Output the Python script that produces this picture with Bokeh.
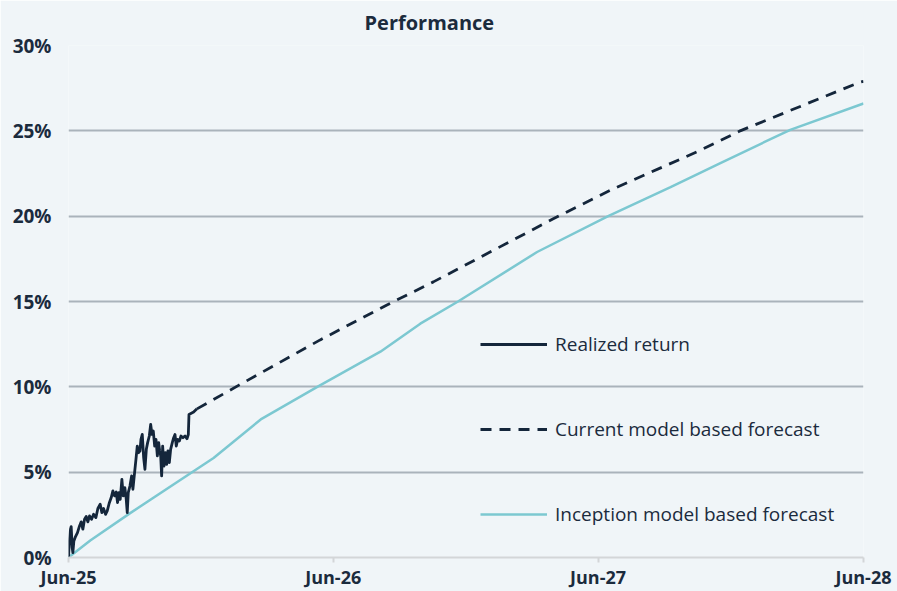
import pandas as pd
from bokeh.plotting import figure
from bokeh.models import (Range1d, FixedTicker, DatetimeTickFormatter, PrintfTickFormatter,
                          Legend, LegendItem)
from bokeh.embed import file_html
from bokeh.resources import INLINE

# ---------------- data ----------------
start_date = "2025-06-30"
end_date = "2028-06-30"

# realized return: days since start, percent
realized_days = [0, 1.4, 2.8, 3.7, 5.1, 6.0, 7.4, 9.7, 12.4, 15.2, 17.5, 19.8, 22.1, 24.4, 26.7,
                 29.0, 31.8, 34.6, 37.8, 40.5, 43.7, 46.0, 48.3, 51.1, 53.4, 56.1, 58.9, 61.2,
                 63.5, 65.8, 67.6, 69.5, 71.3, 73.6, 75.5, 77.7, 79.6, 81.0, 82.4, 84.7, 87.0,
                 88.8, 91.1, 93.0, 94.8, 96.7, 98.5, 99.9, 101.7, 103.6, 105.4, 107.3, 109.1,
                 111.4, 113.3, 115.1, 116.9, 118.8, 120.6, 122.5, 124.3, 125.7, 127.1, 128.4,
                 129.8, 131.6, 133.5, 135.3, 137.1, 139.0, 140.8, 143.1, 145.0, 146.8, 148.6,
                 150.5, 152.8, 155.1, 157.8, 160.6, 163.3, 165.2, 166.1, 172.5, 177.1]
realized_pct = [0.00, 1.07, 1.66, 1.81, 0.58, 0.29, 0.97, 1.23, 1.46, 1.85, 2.09, 1.66, 2.24, 2.40,
                2.09, 2.44, 2.24, 2.53, 2.34, 2.87, 3.12, 2.63, 2.87, 2.53, 2.73, 3.18, 3.51, 3.90,
                3.61, 3.84, 3.22, 3.80, 3.41, 4.58, 3.61, 4.09, 3.41, 2.63, 3.80, 4.19, 4.78, 4.00,
                4.97, 5.75, 6.53, 6.14, 6.24, 6.92, 7.21, 5.85, 5.17, 6.34, 6.73, 7.12, 7.80, 7.21,
                7.41, 6.53, 6.92, 5.95, 6.73, 6.24, 5.95, 4.78, 6.53, 5.36, 6.14, 5.46, 6.24, 5.56,
                6.34, 6.73, 7.02, 7.21, 6.53, 6.92, 6.82, 7.12, 7.02, 7.12, 6.96, 7.21, 8.38, 8.52,
                8.71]

# current model based forecast
current_days = [177.1, 235, 347, 439, 503, 669, 751, 871, 926, 1091, 1096]
current_pct = [8.71, 10.1, 12.75, 14.8, 16.15, 19.86, 21.6, 23.86, 25.0, 27.85, 27.9]

# inception model based forecast
inception_days = [0, 30, 85, 200, 265, 343, 430, 485, 537, 646, 744, 830, 898, 995, 1096]
inception_pct = [0.0, 1.0, 2.6, 5.83, 8.09, 10.0, 12.06, 13.7, 15.0, 17.9, 20.0, 21.7, 23.1, 25.06, 26.6]

y_ticks = [0, 5, 10, 15, 20, 25, 30]
x_tick_dates = ["2025-06-30", "2026-06-30", "2027-06-30", "2028-06-30"]

# ---------------- helpers ----------------
start = pd.Timestamp(start_date)
def to_dates(days):
    return [start + pd.to_timedelta(d, unit="D") for d in days]

TEXT = "#1b2b3d"
NAVY = "#14263b"
TEAL = "#7cc8d1"
BG = "#f0f5f8"
FONT = "Open Sans"

p = figure(width=897, height=591, x_axis_type="datetime",
           x_range=Range1d(pd.Timestamp(start_date), pd.Timestamp(end_date)),
           y_range=Range1d(0, 30),
           output_backend="svg", toolbar_location=None,
           min_border_left=68, min_border_right=34, min_border_top=45, min_border_bottom=33,
           background_fill_color=BG, border_fill_color=BG, outline_line_color=None)

r_inc = p.line(to_dates(inception_days), inception_pct, line_color=TEAL, line_width=2.5)
r_cur = p.line(to_dates(current_days), current_pct, line_color=NAVY, line_width=2.8,
               line_dash="11 8")
r_real = p.line(to_dates(realized_days), realized_pct, line_color=NAVY, line_width=2.8,
                line_join="round")

# title
p.title.text = "Performance"
p.title.align = "left"
p.title.offset = 296
p.title.text_font = FONT
p.title.text_font_size = "20px"
p.title.text_font_style = "bold"
p.title.text_color = TEXT
p.title.text_line_height = 0.9
p.title.standoff = 16
p.title.vertical_align = "top"

# grids
p.xgrid.grid_line_color = None
p.ygrid.ticker = FixedTicker(ticks=y_ticks)
p.ygrid.grid_line_color = "#aab3bb"
p.ygrid.grid_line_width = 2

# y axis
p.yaxis.ticker = FixedTicker(ticks=y_ticks)
p.yaxis.formatter = PrintfTickFormatter(format="%d%%")
p.yaxis.axis_line_color = None
p.yaxis.major_tick_line_color = None
p.yaxis.minor_tick_line_color = None
p.yaxis.major_tick_out = 0
p.yaxis.major_label_standoff = 17
p.yaxis.major_label_text_font = FONT
p.yaxis.major_label_text_font_size = "19px"
p.yaxis.major_label_text_font_style = "bold"
p.yaxis.major_label_text_color = TEXT

# x axis
p.xaxis.ticker = FixedTicker(ticks=[pd.Timestamp(d).value / 1e6 for d in x_tick_dates])
fmt = "%b-%y"
p.xaxis.formatter = DatetimeTickFormatter(years=fmt, months=fmt, days=fmt, hours=fmt,
                                          minutes=fmt, seconds=fmt, milliseconds=fmt)
p.xaxis.axis_line_color = "#d3d6d8"
p.xaxis.axis_line_width = 2
p.xaxis.major_tick_line_color = "#d3d6d8"
p.xaxis.major_tick_line_width = 2
p.xaxis.major_tick_in = 0
p.xaxis.major_tick_out = 5
p.xaxis.minor_tick_line_color = None
p.xaxis.major_label_standoff = 2
p.xaxis.major_label_text_font = FONT
p.xaxis.major_label_text_font_size = "18px"
p.xaxis.major_label_text_font_style = "bold"
p.xaxis.major_label_text_color = TEXT

legend = Legend(items=[LegendItem(label="Realized return", renderers=[r_real]),
                       LegendItem(label="Current model based forecast", renderers=[r_cur]),
                       LegendItem(label="Inception model based forecast", renderers=[r_inc])],
                location=(412, 30), orientation="vertical",
                glyph_width=67, glyph_height=26, label_standoff=8, spacing=59,
                padding=0, margin=0, border_line_alpha=0, background_fill_alpha=0,
                label_text_font=FONT, label_text_font_size="19px", label_text_color=TEXT,
                label_height=26)
p.add_layout(legend)

open("out.html", "w").write(file_html(p, INLINE))
